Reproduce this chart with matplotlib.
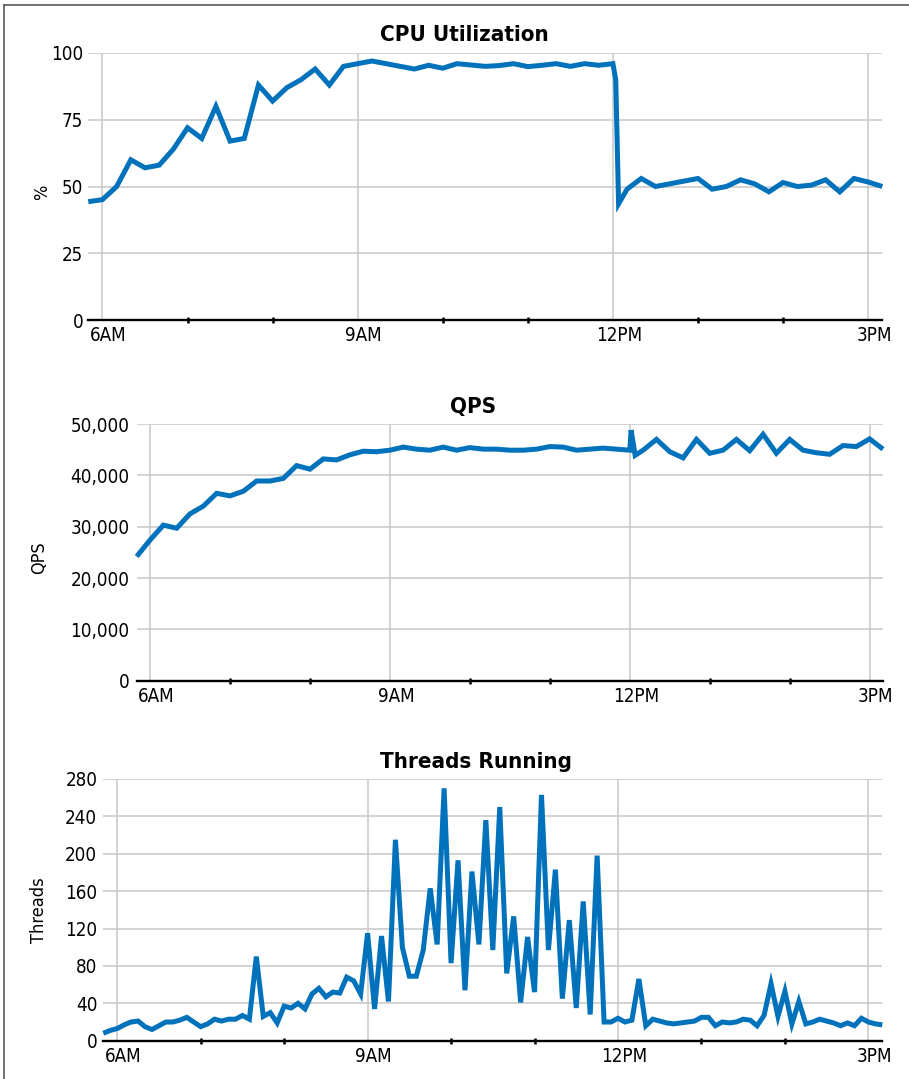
import matplotlib
matplotlib.use("Agg")
import matplotlib.pyplot as plt
import matplotlib.transforms as mtransforms
from matplotlib.lines import Line2D
from matplotlib import font_manager as fm
import pandas as pd

# ---------------- data ----------------
cpu_times = ["05:50", "06:00", "06:10", "06:20", "06:30", "06:40", "06:50",
             "07:00", "07:10", "07:20", "07:30", "07:40", "07:50",
             "08:00", "08:10", "08:20", "08:30", "08:40", "08:50",
             "09:00", "09:10", "09:20", "09:30", "09:40", "09:50",
             "10:00", "10:10", "10:20", "10:30", "10:40", "10:50",
             "11:00", "11:10", "11:20", "11:30", "11:40", "11:50",
             "12:00", "12:02", "12:04", "12:10", "12:20", "12:30", "12:40", "12:50",
             "13:00", "13:10", "13:20", "13:30", "13:40", "13:50",
             "14:00", "14:10", "14:20", "14:30", "14:40", "14:50",
             "15:00", "15:10"]
cpu_values = [44.3, 45.1, 50, 60, 57, 58, 64,
              72, 68, 80, 67, 68, 88,
              82, 87, 90, 94, 88, 95,
              96, 97, 96, 95, 94, 95.4,
              94.3, 96, 95.5, 95, 95.3, 96,
              94.9, 95.4, 96, 95, 96, 95.4,
              96, 90, 43.5, 49, 53, 50, 51, 52,
              53, 49, 50, 52.5, 51, 48,
              51.5, 50, 50.5, 52.5, 48, 53,
              51.7, 50]

qps_times = ["05:50", "06:00", "06:10", "06:20", "06:30", "06:40", "06:50",
             "07:00", "07:10", "07:20", "07:30", "07:40", "07:50",
             "08:00", "08:10", "08:20", "08:30", "08:40", "08:50",
             "09:00", "09:10", "09:20", "09:30", "09:40", "09:50",
             "10:00", "10:10", "10:20", "10:30", "10:40", "10:50",
             "11:00", "11:10", "11:20", "11:30", "11:40", "11:50",
             "12:00", "12:01", "12:04", "12:10", "12:20", "12:30", "12:40", "12:50",
             "13:00", "13:10", "13:20", "13:30", "13:40", "13:50",
             "14:00", "14:10", "14:20", "14:30", "14:40", "14:50",
             "15:00", "15:10"]
qps_values = [24200, 27400, 30300, 29700, 32500, 34000, 36500,
              36000, 36900, 38900, 38900, 39400, 41900,
              41200, 43200, 43000, 44000, 44700, 44600,
              44900, 45500, 45100, 44900, 45500, 44900,
              45400, 45100, 45100, 44900, 44900, 45100,
              45600, 45500, 44900, 45100, 45300, 45100,
              44900, 48800, 43900, 44900, 47000, 44600, 43400, 47000,
              44300, 44900, 47000, 44800, 48000, 44300,
              47000, 44900, 44400, 44100, 45800, 45600,
              47100, 45100]

threads_start = "05:50"
threads_step_min = 5
threads_values = [8, 11,
                  13, 17, 20, 21, 15, 12, 16, 20, 20, 22, 25, 20,
                  15, 18, 23, 21, 23, 23, 27, 23, 90, 26, 30, 19,
                  37, 35, 40, 34, 50, 56, 47, 52, 51, 68, 64, 50,
                  115, 34, 112, 42, 215, 100, 69, 69, 97, 163, 103, 270,
                  83, 193, 54, 181, 103, 236, 97, 250, 72, 133, 41, 111,
                  52, 263, 97, 183, 45, 129, 35, 149, 28, 198, 20, 20,
                  24, 20, 22, 66, 16, 23, 21, 19, 18, 19, 20, 21,
                  25, 25, 16, 20, 19, 20, 23, 22, 16, 27, 61, 26,
                  53, 18, 42, 18, 20, 23, 21, 19, 16, 19, 16, 24,
                  20, 18, 17]

major_hours = [6, 9, 12, 15]
major_labels = ["6AM", "9AM", "12PM", "3PM"]
minor_hours = [7, 8, 10, 11, 13, 14]

cpu_yticks = [0, 25, 50, 75, 100]
cpu_ylabels = ["0", "25", "50", "75", "100"]
qps_yticks = [0, 10000, 20000, 30000, 40000, 50000]
qps_ylabels = ["0", "10,000", "20,000", "30,000", "40,000", "50,000"]
thr_yticks = [0, 40, 80, 120, 160, 200, 240, 280]
thr_ylabels = ["0", "40", "80", "120", "160", "200", "240", "280"]

titles = ["CPU Utilization", "QPS", "Threads Running"]
ylabels = ["%", "QPS", "Threads"]

# ---------------- fonts ----------------
names = {f.name for f in fm.fontManager.ttflist}
if "Liberation Sans Narrow" in names:
    FAM = ["Liberation Sans Narrow", "DejaVu Sans"]
    STRETCH = "normal"
elif any(f.name == "DejaVu Sans" and f.stretch == "condensed" for f in fm.fontManager.ttflist):
    FAM = ["DejaVu Sans"]
    STRETCH = "condensed"
else:
    FAM = ["Roboto", "DejaVu Sans"]
    STRETCH = "normal"
plt.rcParams["font.family"] = FAM
plt.rcParams["font.stretch"] = STRETCH


def to_hours(s):
    h, m = s.split(":")
    return int(h) + int(m) / 60.0


cpu_x = [to_hours(t) for t in cpu_times]
qps_x = [to_hours(t) for t in qps_times]
thr_idx = pd.date_range("2020-01-01 " + threads_start, periods=len(threads_values),
                        freq=f"{threads_step_min}min")
thr_x = [t.hour + t.minute / 60.0 for t in thr_idx]

W, H, DPI = 909, 1079, 100
fig = plt.figure(figsize=(W / DPI, H / DPI), dpi=DPI)
fig.patch.set_facecolor("white")

BLUE = "#0072BC"
GRID = "#CCCCCC"
TICKFS = 13.5
LABFS = 13
TITLEFS = 16


def add_ax(left, right, top, bottom):
    return fig.add_axes([left / W, 1 - bottom / H, (right - left) / W, (bottom - top) / H])


panels = [
    dict(geom=(88.3, 882.3, 53, 320), x=cpu_x, y=cpu_values, ymax=100,
         yt=cpu_yticks, yl=cpu_ylabels, ypad=3.6,
         title=titles[0], tpos=(464.5, 41), ylab=ylabels[0], lpos=(42.3, 192.7)),
    dict(geom=(136.7, 883, 424, 680.7), x=qps_x, y=qps_values, ymax=50000,
         yt=qps_yticks, yl=qps_ylabels, ypad=5.3,
         title=titles[1], tpos=(473.3, 412.7), ylab=ylabels[1], lpos=(39, 557.5)),
    dict(geom=(103.3, 882.3, 779, 1040.7), x=thr_x, y=threads_values, ymax=280,
         yt=thr_yticks, yl=thr_ylabels, ypad=4.3,
         title=titles[2], tpos=(475.5, 767.7), ylab=ylabels[2], lpos=(38.5, 910)),
]

for p in panels:
    ax = add_ax(*p["geom"])
    ax.plot(p["x"], p["y"], color=BLUE, lw=3.6, solid_joinstyle="miter",
            solid_capstyle="butt", clip_on=False, zorder=3)
    ax.set_xlim(p["x"][0], p["x"][-1])
    ax.set_ylim(0, p["ymax"])
    ax.set_yticks(p["yt"])
    ax.set_yticklabels(p["yl"], fontsize=TICKFS)
    ax.set_xticks(major_hours)
    ax.set_xticklabels([])
    ax.set_xticks(minor_hours, minor=True)
    ax.grid(True, which="major", color=GRID, lw=1.2)
    ax.set_axisbelow(True)
    for s in ["left", "right", "top"]:
        ax.spines[s].set_visible(False)
    ax.spines["bottom"].set_color("black")
    ax.spines["bottom"].set_linewidth(1.7)
    ax.spines["bottom"].set_zorder(4)
    ax.tick_params(axis="x", which="major", length=0)
    ax.tick_params(axis="x", which="minor", length=5, width=1.8,
                   direction="inout", color="black")
    ax.tick_params(axis="y", length=0, pad=p["ypad"])
    off = mtransforms.ScaledTranslation(6 / DPI, -6 / DPI, fig.dpi_scale_trans)
    trans = mtransforms.blended_transform_factory(ax.transData, ax.transAxes) + off
    for xv, lbl in zip(major_hours, major_labels):
        ax.text(xv, 0, lbl, transform=trans, ha="center", va="top", fontsize=TICKFS)
    tx, ty = p["tpos"]
    fig.text(tx / W, 1 - ty / H, p["title"], ha="center", va="baseline",
             fontsize=TITLEFS, fontweight="bold")
    lx, ly = p["lpos"]
    fig.text(lx / W, 1 - ly / H, p["ylab"], ha="center", va="center",
             rotation=90, fontsize=LABFS)

# outer frame (top and left edges)
fig.add_artist(Line2D([4 / W, 1], [1 - 5 / H, 1 - 5 / H], color="#4a4a4a", lw=1.1,
                      transform=fig.transFigure))
fig.add_artist(Line2D([4 / W, 4 / W], [1 - 5 / H, 0], color="#4a4a4a", lw=1.1,
                      transform=fig.transFigure))

fig.savefig("out.png", dpi=DPI)
